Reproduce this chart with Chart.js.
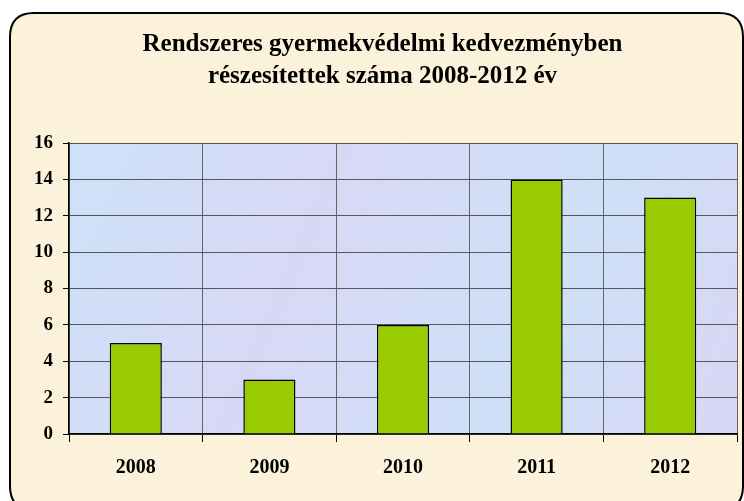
<!DOCTYPE html>
<html>
<head>
<meta charset="utf-8">
<script src="https://cdn.jsdelivr.net/npm/chart.js@4"></script>
<style>
    html, body { margin: 0; padding: 0; background: #ffffff; }
    #wrap { width: 744px; height: 501px; }
</style>
</head>
<body>
<div id="wrap"><canvas id="kedvezmenyChart" width="744" height="501"></canvas></div>
<script>
// Data
const years = ['2008', '2009', '2010', '2011', '2012'];
const recipients = [5, 3, 6, 14, 13];
const titleLines = ['Rendszeres gyermekvédelmi kedvezményben', 'részesítettek száma 2008-2012 év'];

// Frame + plot background, drawn before the chart itself
const backgroundPlugin = {
    id: 'frameBackground',
    beforeDraw(chart) {
        const ctx = chart.ctx;
        const area = chart.chartArea;
        ctx.save();
        // rounded beige frame
        const x = 10, y = 13, w = 733, h = 497, r = 24;
        ctx.beginPath();
        ctx.moveTo(x + r, y);
        ctx.lineTo(x + w - r, y);
        ctx.quadraticCurveTo(x + w, y, x + w, y + r);
        ctx.lineTo(x + w, y + h - r);
        ctx.quadraticCurveTo(x + w, y + h, x + w - r, y + h);
        ctx.lineTo(x + r, y + h);
        ctx.quadraticCurveTo(x, y + h, x, y + h - r);
        ctx.lineTo(x, y + r);
        ctx.quadraticCurveTo(x, y, x + r, y);
        ctx.closePath();
        ctx.fillStyle = '#fcf1da';
        ctx.fill();
        ctx.lineWidth = 2;
        ctx.strokeStyle = '#000';
        ctx.stroke();

        // bluish plot area
        const grad = ctx.createLinearGradient(area.left, area.top, area.right, area.bottom);
        grad.addColorStop(0, '#cde2f9');
        grad.addColorStop(0.35, '#d8d8f6');
        grad.addColorStop(0.7, '#cee0f8');
        grad.addColorStop(1, '#d9d6f5');
        ctx.fillStyle = grad;
        ctx.fillRect(area.left, area.top, area.right - area.left, area.bottom - area.top);
        ctx.restore();
    }
};

const ctx = document.getElementById('kedvezmenyChart').getContext('2d');

new Chart(ctx, {
    type: 'bar',
    data: {
        labels: years,
        datasets: [{
            data: recipients,
            backgroundColor: '#99cc00',
            borderColor: '#000000',
            borderWidth: 1.5,
            barPercentage: 0.39,
            categoryPercentage: 1
        }]
    },
    options: {
        responsive: false,
        animation: false,
        layout: {
            // left padding also centres the title over the frame
            padding: { left: 28, right: 7, top: 0, bottom: 0 }
        },
        plugins: {
            legend: { display: false },
            tooltip: { enabled: false },
            title: {
                display: true,
                text: titleLines,
                color: '#000',
                font: { family: 'Liberation Serif', size: 25, weight: 'bold', lineHeight: 1.3 },
                padding: { top: 28, bottom: 50 }
            }
        },
        scales: {
            x: {
                afterFit: function(scale) { scale.height = 67; },
                grid: {
                    offset: true,
                    color: '#666666',
                    lineWidth: 1,
                    tickColor: '#000',
                    tickLength: 8
                },
                border: { color: '#000', width: 1.5 },
                ticks: {
                    color: '#000',
                    padding: 14,
                    font: { family: 'Liberation Serif', size: 20, weight: 'bold' }
                }
            },
            y: {
                min: 0,
                max: 16,
                afterFit: function(scale) { scale.width = 41; },
                grid: {
                    color: '#555555',
                    lineWidth: 1,
                    tickColor: '#000',
                    tickLength: 6
                },
                border: { color: '#000', width: 1.5 },
                ticks: {
                    stepSize: 2,
                    color: '#000',
                    padding: 10,
                    font: { family: 'Liberation Serif', size: 19, weight: 'bold' }
                }
            }
        }
    },
    plugins: [backgroundPlugin]
});
</script>
</body>
</html>
